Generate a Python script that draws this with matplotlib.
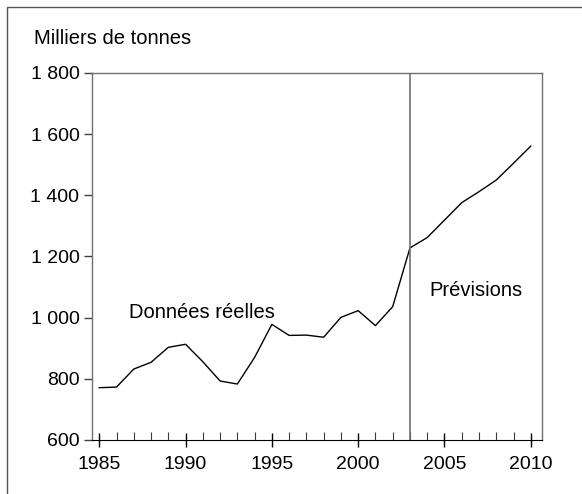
import matplotlib
matplotlib.use("Agg")
import matplotlib.pyplot as plt
from matplotlib.ticker import FuncFormatter, MultipleLocator
from matplotlib.patches import Rectangle

plt.rcParams['font.family'] = ['Liberation Sans', 'DejaVu Sans']

years = list(range(1985, 2011))
tonnes = [771, 773, 832, 854, 903, 913, 856, 793, 783, 870,
          978, 942, 943, 936, 1001, 1023, 974, 1036, 1228,
          1262, 1319, 1376, 1412, 1450, 1505, 1561]
split_year = 2003
x_ticks = [1985, 1990, 1995, 2000, 2005, 2010]
y_ticks = [600, 800, 1000, 1200, 1400, 1600, 1800]

fig = plt.figure(figsize=(5.82, 4.94), dpi=100)
ax = fig.add_axes([92/582, 1 - 440/494, (542-92)/582, (440-73)/494])

# outer frame (cut at right and bottom in the original)
fig.patches.append(Rectangle((7/582, -0.1), 1.2, 1 - 7/494 + 0.1,
                             transform=fig.transFigure, fill=False,
                             edgecolor="#555555", linewidth=1.0))

ax.plot(years, tonnes, color="black", linewidth=1.0)
ax.axvline(split_year, color="#707070", linewidth=1.2)

ax.set_xlim(1984.58, 2010.65)
ax.set_ylim(600, 1800)
ax.set_xticks(x_ticks)
ax.xaxis.set_minor_locator(MultipleLocator(1))
ax.set_yticks(y_ticks)
ax.yaxis.set_major_formatter(FuncFormatter(lambda v, p: f"{int(v):,}".replace(",", " ")))

for s in ["left", "top", "right"]:
    ax.spines[s].set_color("#707070")
    ax.spines[s].set_linewidth(1.0)
ax.spines["bottom"].set_color("black")

ax.tick_params(axis="x", which="major", direction="inout", length=10, width=1.0,
               color="black", labelsize=14, pad=6.5)
ax.tick_params(axis="x", which="minor", direction="in", length=6, width=0.8, color="#404040")
ax.tick_params(axis="y", which="major", direction="out", length=6, width=1.0,
               color="#404040", labelsize=14, pad=3)

ax.text(1986.75, 1018, "Données réelles", fontsize=14.5, va="center", ha="left")
ax.text(2004.1, 1090, "Prévisions", fontsize=14.5, va="center", ha="left")
fig.text(34/582, 1 - 39/494, "Milliers de tonnes", fontsize=14.5, va="center", ha="left")

fig.savefig("out.png", dpi=100)
